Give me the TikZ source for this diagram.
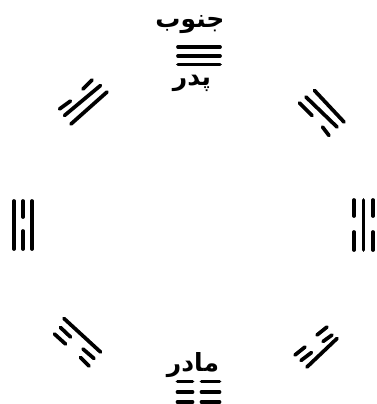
\documentclass[tikz,border=0pt]{standalone}
\usepackage{fontspec}
\newfontfamily\arabicfont[Script=Arabic]{DejaVu Sans}
\TeXXeTstate=1
\begin{document}
\begin{tikzpicture}[x=1pt,y=-1pt,
  bar/.style={line width=3.7pt, line cap=round},
  lbl/.style={inner sep=0pt, anchor=base, font=\arabicfont\bfseries\fontsize{25}{30}\selectfont}]
\useasboundingbox[fill=white] (0,0) rectangle (376,404);
% labels
\node[lbl] (south) at (190,28) {\beginR جنوب\endR};
\node[lbl] (father) at (192,85) {\beginR پدر\endR};
\node[lbl] (mother) at (193,371) {\beginR مادر\endR};
% top: Qian
\draw[bar] (178,47)--(220,47);
\draw[bar] (178,56)--(220,56);
\draw[bar] (178,64.5)--(220,64.5);
% bottom: Kun
\foreach \y in {381.5,392,402}{
  \draw[bar] (177.5,\y)--(192.5,\y);
  \draw[bar] (201.5,\y)--(219.5,\y);
}
% left: Li
\draw[bar] (14,201)--(14,249);
\draw[bar] (23,201)--(23,217);
\draw[bar] (23,231)--(23,249);
\draw[bar] (32,201)--(32,249);
% right: Kan
\draw[bar] (354,200)--(354,216);
\draw[bar] (354,232)--(354,250);
\draw[bar] (363.5,200)--(363.5,250);
\draw[bar] (373,200)--(373,216);
\draw[bar] (373,232)--(373,250);
% top-left: Dui
\draw[bar] (59.5,109)--(70.5,101);
\draw[bar] (83,89)--(92,80);
\draw[bar] (64.5,115.5)--(100.5,85.5);
\draw[bar] (71,124)--(107,92);
% top-right: Xun
\draw[bar] (314.5,90.5)--(344,122);
\draw[bar] (306,97)--(337,127);
\draw[bar] (299.5,103)--(312,115.5);
\draw[bar] (322.5,127)--(329,135.5);
% bottom-left: Zhen
\draw[bar] (64,318.5)--(100.5,352);
\draw[bar] (60.5,327.5)--(70.5,337);
\draw[bar] (83,349)--(94,358.5);
\draw[bar] (54.5,334)--(65.5,344);
\draw[bar] (80.5,357.5)--(89,366);
% bottom-right: Gen
\draw[bar] (307,367)--(337,338.5);
\draw[bar] (301,360.5)--(311.5,352.5);
\draw[bar] (323,341.5)--(332,335);
\draw[bar] (295,355)--(305,347);
\draw[bar] (317,335)--(327,327);
\end{tikzpicture}
\end{document}
